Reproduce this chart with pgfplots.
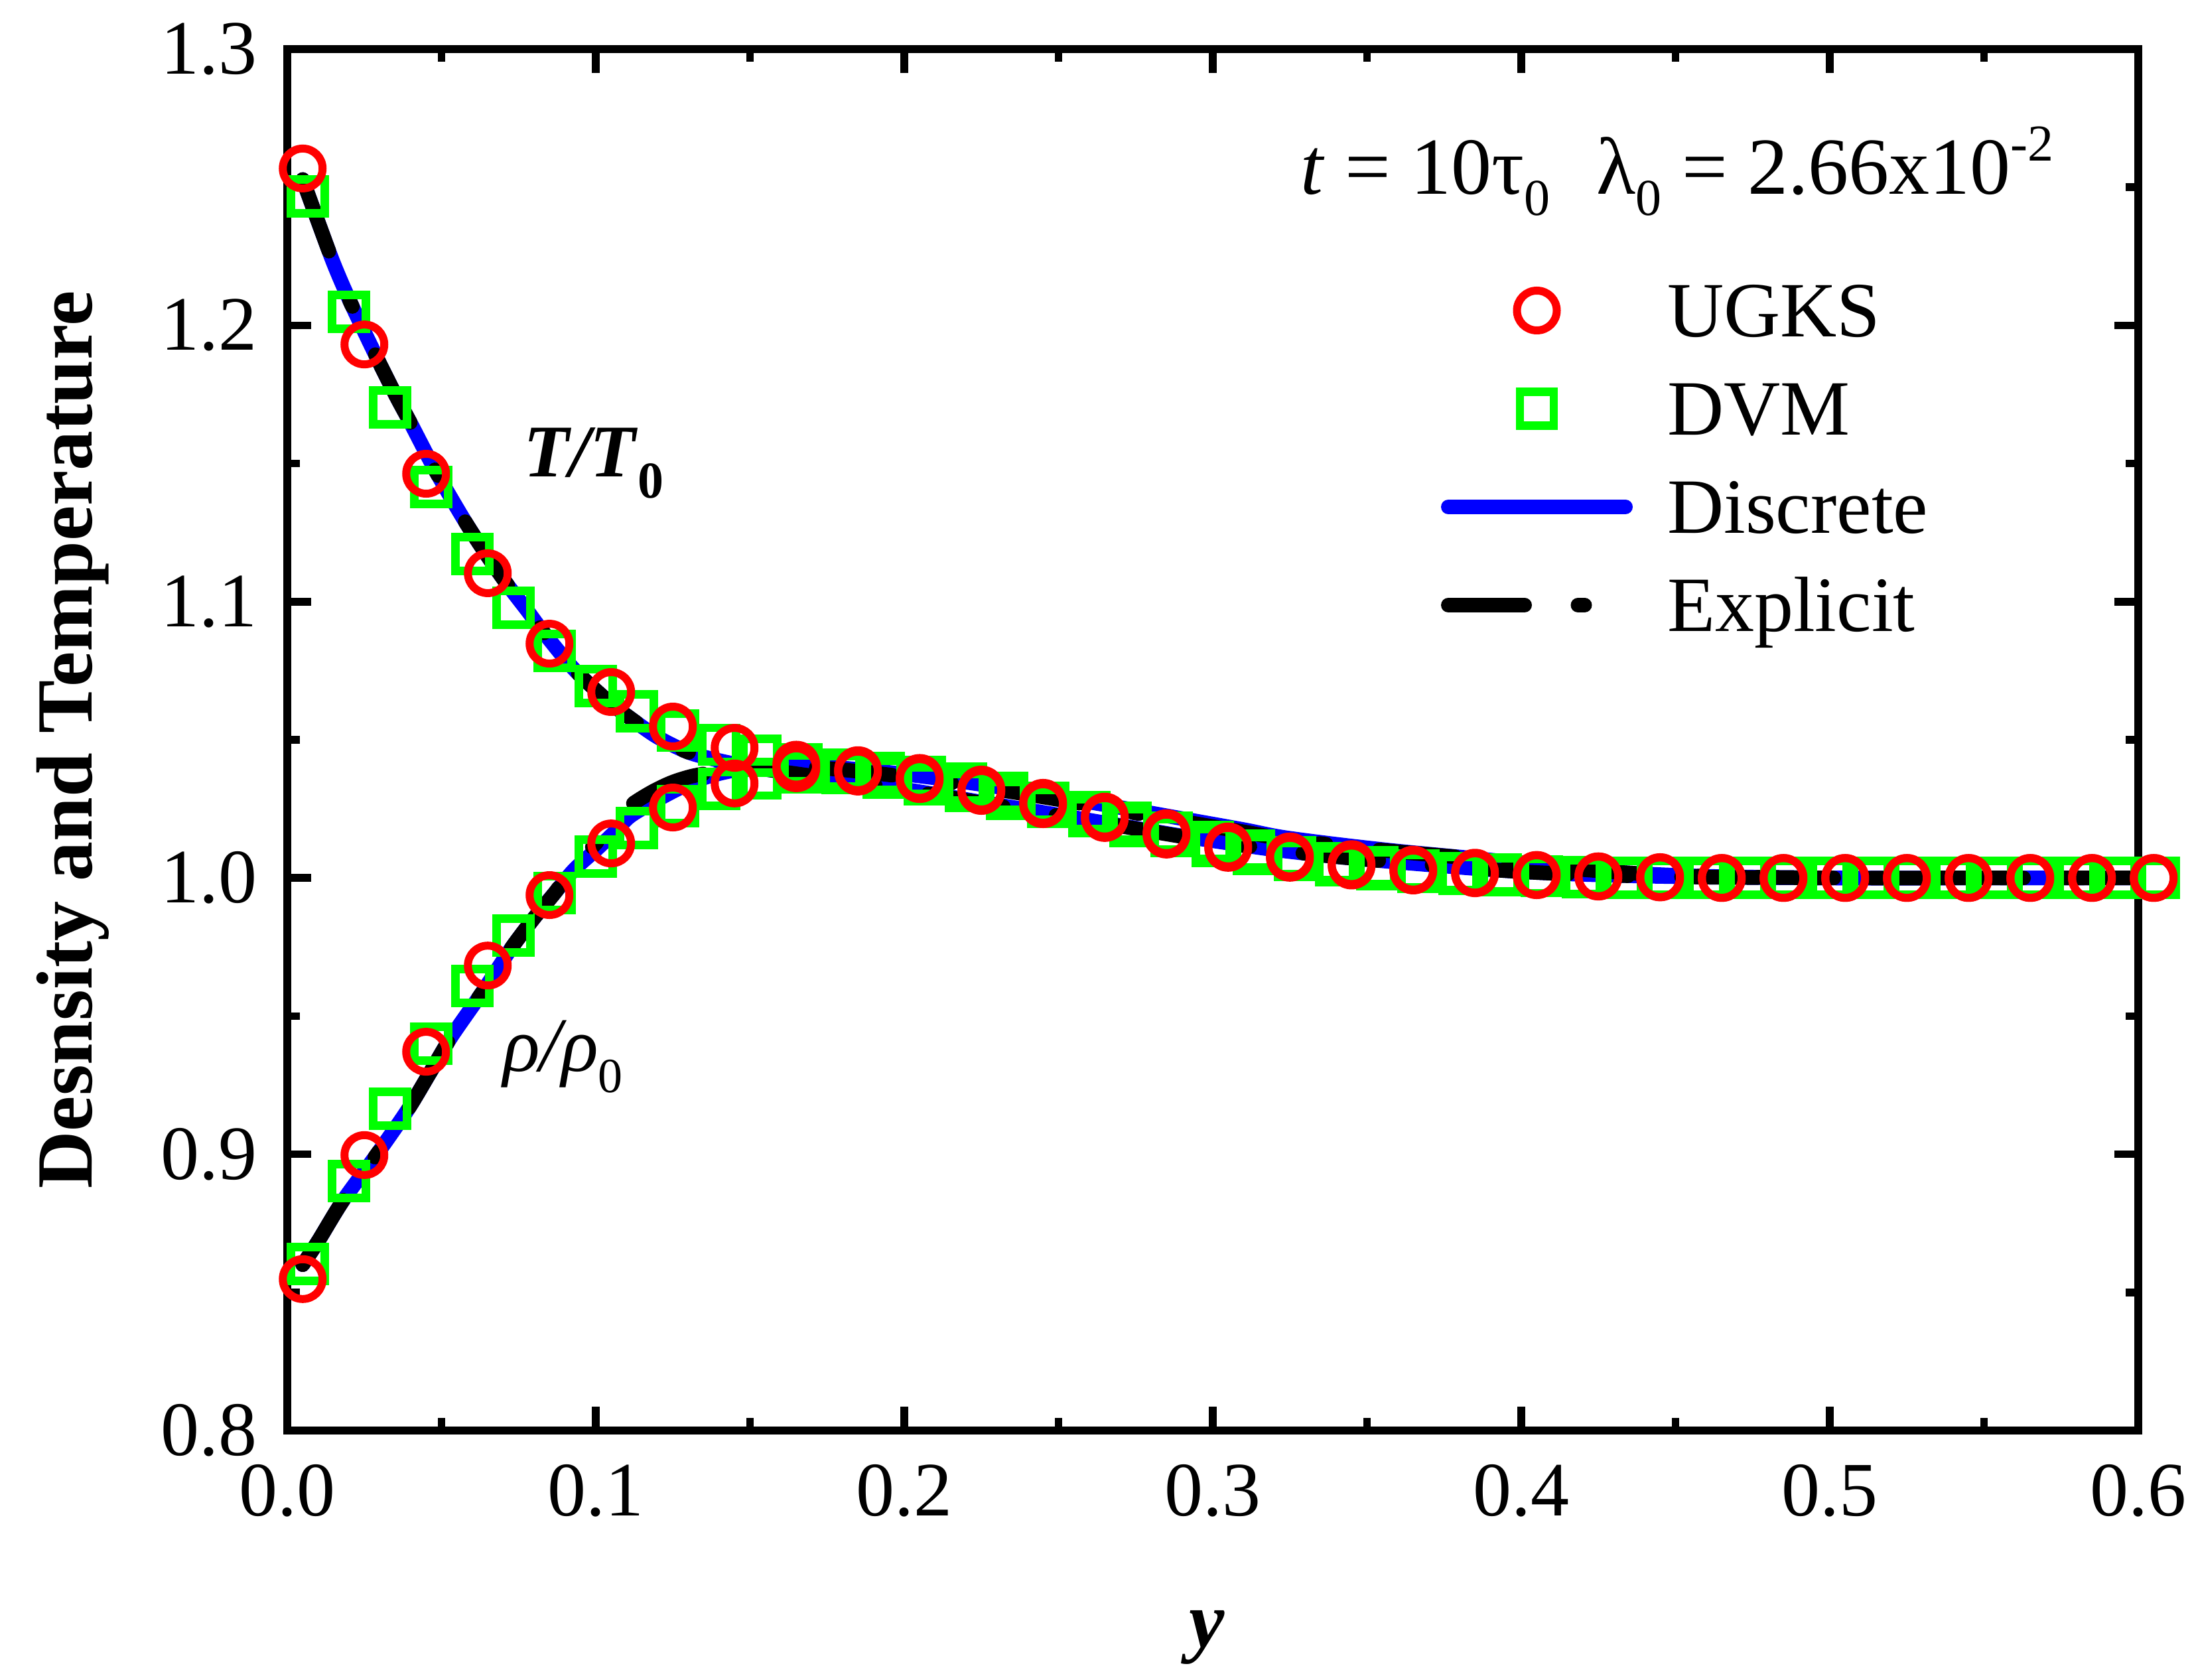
\documentclass[border=0pt]{standalone}
\usepackage{fontspec}
\setmainfont{Liberation Serif}
\usepackage{pgfplots}
\pgfplotsset{compat=1.18}
\usetikzlibrary{calc}
\newcommand{\fs}[1]{\fontsize{#1}{#1}\selectfont}
\newcommand{\sub}[3]{\raisebox{-#1}{\fs{#2}#3}}
\definecolor{cR}{RGB}{255,0,0}
\definecolor{cG}{RGB}{0,255,0}
\definecolor{cB}{RGB}{0,0,255}
\begin{document}
\begin{tikzpicture}
\begin{axis}[
  at={(0,0)}, anchor=south west,
  scale only axis, width=279bp, height=208.2bp,
  xmin=0, xmax=0.6, ymin=0.8, ymax=1.3,
  xtick={0,0.1,0.2,0.3,0.4,0.5,0.6},
  ytick={0.8,0.9,1.0,1.1,1.2,1.3},
  minor x tick num=1, minor y tick num=1,
  tick align=inside,
  xtick pos=both, ytick pos=both,
  xticklabel pos=lower, yticklabel pos=left,
  major tick length=3.6bp, minor tick length=1.9bp,
  every tick/.style={black, line width=1.15bp},
  axis line style={line width=1.25bp},
  clip=false,
  tick label style={font=\fs{11.6bp}},
  xticklabel style={inner sep=0pt, yshift=-4.9bp},
  yticklabel style={inner sep=0pt, xshift=-4.4bp},
  /pgf/number format/fixed, /pgf/number format/fixed zerofill,
  /pgf/number format/precision=1,
  /pgf/number format/assume math mode=true,
  xlabel={\textbf{\textit{y}}},
  ylabel={\textbf{Desnsity and Temperature}},
  xlabel style={at={(axis description cs:0.497,-0.1566)}, anchor=base, inner sep=0pt, font=\fs{12bp}},
  ylabel style={at={(axis description cs:-0.10538,0.5)}, anchor=base, inner sep=0pt, font=\fs{12bp}},
  legend style={at={(axis description cs:0.6233,0.8384)}, anchor=north west,
    draw=none, fill=none, inner sep=0pt, outer sep=0pt, row sep=3.3bp,
    font=\fs{11.8bp},
    nodes={inner sep=0pt, text height=9.7bp, text depth=1.8bp},
    /tikz/every odd column/.append style={column sep=5.2bp}},
  legend cell align=left,
  legend image code/.code={\draw[mark repeat=2,mark phase=2] plot coordinates {(0bp,0bp)(13.35bp,0bp)(26.7bp,0bp)};},
]
% DVM T
\addplot[only marks, mark=square, cG, mark size=2.55bp, mark options={line width=1.25bp}, forget plot] coordinates {
(0.00667,1.2467)(0.02,1.2049)(0.03333,1.1703)(0.04667,1.1415)(0.06,1.1172)(0.07333,1.0978)
(0.08667,1.0822)(0.1,1.0695)(0.11333,1.0603)(0.12667,1.0534)(0.14,1.0482)(0.15333,1.0442)
(0.16667,1.0412)(0.18,1.0392)(0.19333,1.0380)(0.20667,1.0366)(0.22,1.0343)(0.23333,1.0308)
(0.24667,1.0272)(0.26,1.0240)(0.27333,1.0200)(0.28667,1.0165)(0.3,1.0130)(0.31333,1.0100)
(0.32667,1.0075)(0.34,1.0055)(0.35333,1.0040)(0.36667,1.0028)(0.38,1.0019)(0.39333,1.0012)
(0.40667,1.0007)(0.42,1.0004)(0.43333,1.0002)(0.44667,1.0)(0.46,1.0)(0.47333,1.0)
(0.48667,1.0)(0.5,1.0)(0.51333,1.0)(0.52667,1.0)(0.54,1.0)(0.55333,1.0)(0.56667,1.0)
(0.58,1.0)(0.59333,1.0)(0.60667,1.0)};
% DVM rho
\addplot[only marks, mark=square, cG, mark size=2.55bp, mark options={line width=1.25bp}, forget plot] coordinates {
(0.00667,0.8603)(0.02,0.8903)(0.03333,0.9165)(0.04667,0.9400)(0.06,0.9609)(0.07333,0.9791)
(0.08667,0.9945)(0.1,1.0077)(0.11333,1.0181)(0.12667,1.0260)(0.14,1.0322)(0.15333,1.0360)
(0.16667,1.0382)(0.18,1.0380)(0.19333,1.0363)(0.20667,1.0338)(0.22,1.0315)(0.23333,1.0285)
(0.24667,1.0257)(0.26,1.0224)(0.27333,1.0188)(0.28667,1.0152)(0.3,1.0116)(0.31333,1.0087)
(0.32667,1.0065)(0.34,1.0046)(0.35333,1.0032)(0.36667,1.0022)(0.38,1.0015)(0.39333,1.0010)
(0.40667,1.0006)(0.42,1.0003)(0.43333,1.0001)(0.44667,1.0)(0.46,1.0)(0.47333,1.0)
(0.48667,1.0)(0.5,1.0)(0.51333,1.0)(0.52667,1.0)(0.54,1.0)(0.55333,1.0)(0.56667,1.0)
(0.58,1.0)(0.59333,1.0)(0.60667,1.0)};
% UGKS T
\addplot[only marks, mark=o, cR, mark size=3bp, mark options={line width=1.2bp}, forget plot] coordinates {
(0.005,1.2568)(0.025,1.1931)(0.045,1.1463)(0.065,1.1103)(0.085,1.0848)(0.105,1.0673)
(0.125,1.0548)(0.145,1.0471)(0.165,1.0410)(0.185,1.0385)(0.205,1.0358)(0.225,1.0315)
(0.245,1.0267)(0.265,1.0217)(0.285,1.0157)(0.305,1.0109)(0.325,1.0073)(0.345,1.0045)
(0.365,1.0027)(0.385,1.0017)(0.405,1.0010)(0.425,1.0005)(0.445,1.0002)(0.465,1.0)
(0.485,1.0)(0.505,1.0)(0.525,1.0)(0.545,1.0)(0.565,1.0)(0.585,1.0)(0.605,1.0)};
% UGKS rho
\addplot[only marks, mark=o, cR, mark size=3bp, mark options={line width=1.2bp}, forget plot] coordinates {
(0.005,0.8548)(0.025,0.8997)(0.045,0.9371)(0.065,0.9683)(0.085,0.9938)(0.105,1.0125)
(0.125,1.0255)(0.145,1.0342)(0.165,1.0397)(0.185,1.0390)(0.205,1.0362)(0.225,1.0320)
(0.245,1.0272)(0.265,1.0222)(0.285,1.0162)(0.305,1.0114)(0.325,1.0078)(0.345,1.0050)
(0.365,1.0030)(0.385,1.0019)(0.405,1.0011)(0.425,1.0006)(0.445,1.0003)(0.465,1.0)
(0.485,1.0)(0.505,1.0)(0.525,1.0)(0.545,1.0)(0.565,1.0)(0.585,1.0)(0.605,1.0)};
% Discrete T
\addplot[cB, line width=2.2bp, line cap=round, smooth, tension=0.5, forget plot] coordinates {
(0.005,1.2528)(0.010,1.2375)(0.015,1.2225)(0.020,1.2095)(0.028,1.1907)(0.035,1.1750)
(0.040,1.1646)(0.048,1.1475)(0.057,1.1302)(0.064,1.1180)(0.071,1.1067)(0.078,1.0965)
(0.083,1.0890)(0.093,1.0755)(0.104,1.0640)(0.111,1.0580)(0.120,1.0510)(0.130,1.0455)
(0.140,1.0425)(0.150,1.0402)(0.160,1.0385)(0.174,1.0363)(0.190,1.0338)(0.210,1.0303)
(0.230,1.0265)(0.251,1.0226)(0.270,1.0190)(0.290,1.0152)(0.310,1.0118)(0.3223,1.0099)
(0.340,1.0077)(0.360,1.0057)(0.390,1.0030)(0.410,1.0017)(0.435,1.0008)(0.460,1.0003)
(0.500,1.0)(0.550,1.0)(0.600,1.0)};
% Discrete rho
\addplot[cB, line width=2.2bp, line cap=round, smooth, tension=0.5, forget plot] coordinates {
(0.005,0.8600)(0.010,0.8685)(0.018,0.8831)(0.029,0.8999)(0.039,0.9160)(0.046,0.9290)
(0.053,0.9422)(0.063,0.9583)(0.0725,0.9744)(0.080,0.9855)(0.087,0.9950)(0.093,1.0030)
(0.100,1.0101)(0.106,1.0165)(0.111,1.0222)(0.118,1.0270)(0.1245,1.0310)(0.131,1.0345)
(0.138,1.0372)(0.147,1.0393)(0.160,1.0403)(0.174,1.0402)(0.190,1.0388)(0.210,1.0362)
(0.230,1.0330)(0.251,1.0292)(0.270,1.0255)(0.290,1.0215)(0.310,1.0175)(0.3223,1.0148)
(0.340,1.0122)(0.360,1.0097)(0.390,1.0065)(0.410,1.0040)(0.435,1.0018)(0.460,1.0006)
(0.500,1.0)(0.550,1.0)(0.600,1.0)};
% Explicit T
\addplot[black, line width=2.2bp, line cap=round, dash pattern=on 11.5bp off 8.05bp on 1bp off 8.05bp, smooth, tension=0.5, forget plot] coordinates {
(0.005,1.2528)(0.010,1.2375)(0.015,1.2225)(0.020,1.2095)(0.028,1.1907)(0.035,1.1750)
(0.040,1.1646)(0.048,1.1475)(0.057,1.1302)(0.064,1.1180)(0.071,1.1067)(0.078,1.0965)
(0.083,1.0890)(0.093,1.0755)(0.104,1.0640)(0.111,1.0580)(0.120,1.0510)(0.130,1.0455)
(0.140,1.0425)(0.150,1.0402)(0.160,1.0385)(0.174,1.0363)(0.190,1.0336)(0.210,1.0300)
(0.230,1.0262)(0.251,1.0223)(0.270,1.0188)(0.290,1.0150)(0.310,1.0117)(0.3223,1.0099)
(0.340,1.0077)(0.360,1.0057)(0.390,1.0030)(0.410,1.0017)(0.435,1.0008)(0.460,1.0003)
(0.500,1.0)(0.550,1.0)(0.600,1.0)};
% Explicit rho
\addplot[black, line width=2.2bp, line cap=round, dash pattern=on 11.5bp off 8.05bp on 1bp off 8.05bp, smooth, tension=0.5, forget plot] coordinates {
(0.005,0.8600)(0.010,0.8685)(0.018,0.8831)(0.029,0.8999)(0.039,0.9160)(0.046,0.9290)
(0.053,0.9422)(0.063,0.9583)(0.0725,0.9744)(0.080,0.9855)(0.087,0.9950)(0.093,1.0045)
(0.100,1.0125)(0.106,1.0200)(0.111,1.0260)(0.118,1.0310)(0.1245,1.0345)(0.131,1.0368)
(0.138,1.0382)(0.147,1.0395)(0.160,1.0400)(0.174,1.0397)(0.190,1.0380)(0.210,1.0352)
(0.230,1.0320)(0.251,1.0282)(0.270,1.0245)(0.290,1.0205)(0.310,1.0167)(0.3223,1.0142)
(0.340,1.0118)(0.360,1.0095)(0.390,1.0065)(0.410,1.0040)(0.435,1.0018)(0.460,1.0006)
(0.500,1.0)(0.550,1.0)(0.600,1.0)};
% legend
\addlegendimage{only marks, mark=o, cR, mark size=3bp, mark options={line width=1.2bp}}
\addlegendentry{UGKS}
\addlegendimage{only marks, mark=square, cG, mark size=2.55bp, mark options={line width=1.25bp}}
\addlegendentry{DVM}
\addlegendimage{cB, line width=2.2bp, line cap=round}
\addlegendentry{Discrete}
\addlegendimage{black, line width=2.2bp, line cap=round, dash pattern=on 11.5bp off 8.05bp on 1bp off 8.05bp}
\addlegendentry{Explicit}
% annotations
\node[anchor=base west, inner sep=0pt, font=\fs{12.2bp}] at (axis cs:0.328,1.2476)
  {\textit{t} = 10τ\sub{3.2bp}{7.8bp}{0}\hspace{7bp}λ\sub{3.2bp}{7.8bp}{0} = 2.66x10\raisebox{5bp}{\fs{7.8bp}-2}};
\node[anchor=base west, inner sep=0pt, font=\fs{11.2bp}] at (axis cs:0.0763,1.1453)
  {\textbf{\textit{T/T}}\sub{3.2bp}{7.8bp}{\textbf{0}}};
\node[anchor=base west, inner sep=0pt, font=\fs{11.6bp}] at (axis cs:0.0695,0.930)
  {\textit{ρ/ρ}\sub{3.2bp}{7.4bp}{0}};
\coordinate (BL) at (rel axis cs:0,0);
\coordinate (TR) at (rel axis cs:1,1);
\end{axis}
\pgfresetboundingbox
\path[use as bounding box] ($(BL)+(-43.3bp,-37.6bp)$) rectangle ($(TR)+(8.4bp,7.4bp)$);
\end{tikzpicture}
\end{document}
